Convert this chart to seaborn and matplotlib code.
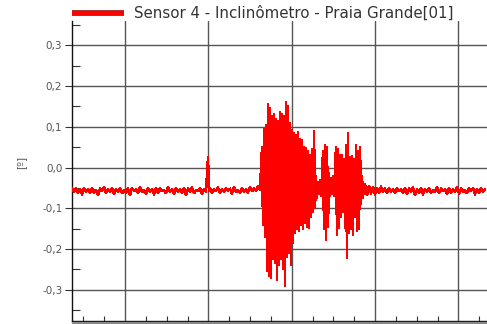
import numpy as np
import pandas as pd
import matplotlib
matplotlib.use("Agg")
import matplotlib.pyplot as plt
import matplotlib.patheffects as pe
from matplotlib.lines import Line2D
from matplotlib.ticker import MultipleLocator, FixedLocator, FixedFormatter
import seaborn as sns

# Leituras do inclinômetro (milésimos de grau), por trecho do registro
pre_evento = [
    -52, -60, -50, -62, -54, -66, -51, -59, -53, -63, -50, -61, -55, -68, -52, -58, -49, -62, -54, -60,
    -51, -65, -53, -59, -50, -63, -56, -61, -52, -67, -50, -58, -53, -62, -49, -60, -55, -64, -51, -59,
    -54, -66, -50, -61, -52, -58, -55, -63, -48, -60, -53, -65, -51, -59, -54, -62, -50, -67, -52, -60,
    -49, -63, -55, -58, -51, -64, -53, -60,
]
pico = [26, -58]
entre_eventos = [
    -50, -61, -53, -58, -49, -63, -54, -60, -51, -57, -52, -64, -48, -60, -55, -62, -50, -59, -53, -61,
    -49, -58, -52, -56, -47, -55,
]
evento = [
    50, -140, 95, -170, 105, -255, 155, -265, 145, -270,
    125, -225, 130, -235, 120, -275, 115, -240, 135, -225,
    130, -250, 125, -290, 160, -220, 150, -210, 110, -240,
    92, -185, 85, -160, 80, -150, 88, -155, 70, -140,
    68, -150, 50, -135, 48, -145, 40, -148, 30, -120,
    45, -110, 90, -100, -20, -75, -35, -65, -30, -70,
    -25, 40, -150, 55, -178, 50, -145, -15, -70, -25,
    -65, -20, -70, -10, 50, -166, 45, -148, 30, -120,
    31, -110, 20, -148, 55, -222, 85, -160, 25, -150,
    28, -166, 20, -122, 55, -155, 40, -150, 50, -90,
    -20, -75, -40,
]
pos_evento = [
    -42, -68, -45, -64, -48, -66, -50, -62, -47, -60, -52, -63, -50, -59, -54, -61, -51, -58, -53, -62,
    -50, -64, -52, -60, -49, -67, -54, -61, -51, -66, -53, -59, -50, -62, -55, -60, -48, -63, -52, -58,
    -54, -65, -50, -61, -53, -59, -49, -64, -52, -60, -55, -63, -51, -58, -50, -66, -53, -61, -52, -59,
    -54,
]

# Intervalo de amostragem de cada trecho (s)
trechos = [(pre_evento, 2.4), (pico, 1.2), (entre_eventos, 2.4), (evento, 1.2), (pos_evento, 2.4)]
t_inicio, t_fim = 36.4, 534.4

tempos, valores = [], []
t = t_inicio
for vals, dt in trechos:
    n = len(vals)
    tempos.extend(t + dt * np.arange(n))
    valores.extend(np.asarray(vals) / 1000.0)
    t = t + dt * n

serie = "Sensor 4 - Inclinômetro - Praia Grande[01]"
df = pd.DataFrame({"tempo": tempos, "inclinacao": valores, "sensor": serie})

ticks_y = [-0.3, -0.2, -0.1, 0.0, 0.1, 0.2, 0.3]
rotulos_y = ["-0,3", "-0,2", "-0,1", "0,0", "0,1", "0,2", "0,3"]

sns.set_style("white")
plt.rcParams["font.family"] = ["DejaVu Sans"]

fig = plt.figure(figsize=(4.87, 3.24), dpi=100)
ax = fig.add_axes([72 / 487, 3 / 324, 415 / 487, 300 / 324])

sns.lineplot(data=df, x="tempo", y="inclinacao", hue="sensor", palette=["#ff0000"],
             estimator=None, sort=False, linewidth=1.1, antialiased=False, ax=ax, zorder=3)

ax.set_xlim(t_inicio, t_fim)
ax.set_ylim(-0.377, 0.360)

ax.xaxis.set_major_locator(MultipleLocator(100))
ax.xaxis.set_minor_locator(MultipleLocator(25))
ax.yaxis.set_major_locator(FixedLocator(ticks_y))
ax.yaxis.set_major_formatter(FixedFormatter(rotulos_y))
ax.yaxis.set_minor_locator(MultipleLocator(0.05))

ax.grid(True, which="major", color="#555555", linewidth=1.0, zorder=1)
ax.set_axisbelow(True)

ax.tick_params(axis="x", which="major", bottom=True, length=0, labelbottom=False)
ax.tick_params(axis="x", which="minor", bottom=True, direction="in", length=3.5, width=0.8,
               color="#333333")
ax.tick_params(axis="y", which="major", left=True, direction="out", length=5, width=0.8,
               color="#333333", labelsize=7.5, labelcolor="#555555", pad=2)
ax.tick_params(axis="y", which="minor", left=True, direction="in", length=5.5, width=0.8,
               color="#333333")

for lado in ("top", "right"):
    ax.spines[lado].set_visible(False)
for lado in ("left", "bottom"):
    ax.spines[lado].set_color("#111111")
    ax.spines[lado].set_linewidth(1.0)

ax.set_xlabel("")
ax.set_ylabel("[º]", color="#555555", fontsize=7.5)
ax.yaxis.set_label_coords(-0.11, 0.527)

# sombra sob o eixo horizontal
fig.add_artist(Line2D([73 / 487, 1.0], [1.2 / 324, 1.2 / 324], color="#888888",
                      linewidth=1.6, transform=fig.transFigure))

leg = ax.legend(loc="lower left", bbox_to_anchor=(0.0, 1.0), frameon=False,
                fontsize=10.8, handlelength=3.45, handletextpad=0.7,
                borderaxespad=0.0, borderpad=0.0)
for txt in leg.get_texts():
    txt.set_color("#333333")
for ln in leg.get_lines():
    ln.set_linewidth(3.0)
    ln.set_solid_capstyle("butt")
    ln.set_antialiased(True)
    ln.set_path_effects([pe.Stroke(linewidth=4.0, foreground="#8b0000", capstyle="butt"), pe.Normal()])

fig.savefig("out.png", dpi=100)
